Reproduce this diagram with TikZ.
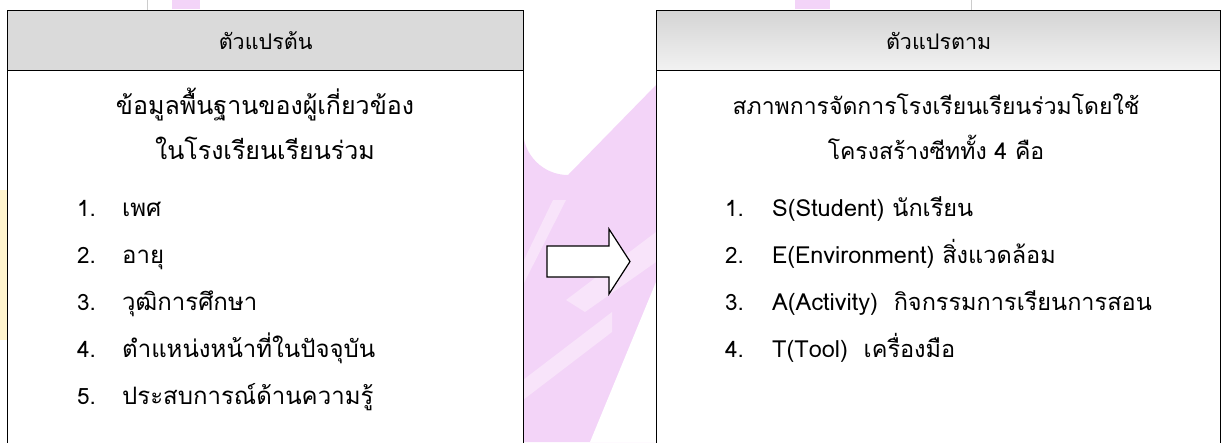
\documentclass[tikz,border=0pt]{standalone}
\usepackage{fontspec}
\setmainfont{Loma}[Script=Thai]
\definecolor{wm}{RGB}{243,212,248}
\definecolor{wmlight}{RGB}{248,228,250}
\definecolor{wmy}{RGB}{255,244,205}
\definecolor{hdr}{RGB}{218,218,218}
\definecolor{hdrtop}{RGB}{212,212,212}
\definecolor{hdrbot}{RGB}{242,242,242}
\tikzset{
  boxframe/.style={draw=black, line width=1.3pt, fill=white, rectangle, anchor=north west, inner sep=0pt},
  hdrbox/.style={draw=black, line width=1.3pt, rectangle, anchor=north west, inner sep=0pt, font=\fontsize{21.5}{25}\selectfont},
  titleL/.style={anchor=base, inner sep=0pt, font=\fontsize{25}{29}\selectfont},
  titleR/.style={anchor=base, inner sep=0pt, font=\fontsize{23}{27}\selectfont},
  itemnum/.style={anchor=base west, inner sep=0pt, font=\fontsize{22.5}{26}\selectfont},
  itemL/.style={anchor=base west, inner sep=0pt, font=\fontsize{24}{28}\selectfont},
  itemR/.style={anchor=base west, inner sep=0pt, font=\fontsize{23.5}{28}\selectfont},
  blockarrow/.style={draw=black, line width=1.2pt, fill=white, line join=miter}
}
\begin{document}
\begin{tikzpicture}[x=1pt,y=-1pt]
\useasboundingbox (0,0) rectangle (1225,442);
\clip (0,0) rectangle (1225,442);
% background watermark
\fill[wm] (523,442) -- (523,130) arc[start angle=180, end angle=90, radius=45] -- (656,85) -- (656,442) -- cycle;
\fill[wmlight] (523,262) -- (553,200) -- (566,200) -- (523,285) -- cycle;
\fill[wmlight] (566,300) -- (656,232) -- (656,262) -- (585,312) -- cycle;
\fill[white] (656,282) -- (656,442) -- (590,442) -- cycle;
\fill[wmlight] (523,380) -- (612,312) -- (612,332) -- (523,400) -- cycle;
\fill[wmy] (0,190) rectangle (7,340);
\fill[wm] (172,0) rectangle (200,9);
\fill[wm] (795,0) rectangle (830,9);
\draw[gray!40, line width=0.8pt] (147,0) -- (147,10);
\draw[gray!40, line width=0.8pt] (971,0) -- (971,10);
% left box
\node[boxframe, minimum width=516pt, minimum height=470pt] (Lbox) at (7,10) {};
\node[hdrbox, fill=hdr, minimum width=516pt, minimum height=60pt] (Lhead) at (7,10) {ตัวแปรต้น};
% right box
\node[boxframe, minimum width=564pt, minimum height=470pt] (Rbox) at (656,10) {};
\node[hdrbox, top color=hdrtop, bottom color=hdrbot, minimum width=564pt, minimum height=60pt] (Rhead) at (656,10) {ตัวแปรตาม};
% left contents
\node[titleL] (L1) at (265,114) {ข้อมูลพื้นฐานของผู้เกี่ยวข้อง};
\node[titleL] (L2) at (265,159) {ในโรงเรียนเรียนร่วม};
\node[itemnum] (Ln1) at (77,216) {1.};
\node[itemL] (Lt1) at (122,216) {เพศ};
\node[itemnum] (Ln2) at (77,263) {2.};
\node[itemL] (Lt2) at (122,263) {อายุ};
\node[itemnum] (Ln3) at (77,310) {3.};
\node[itemL] (Lt3) at (122,310) {วุฒิการศึกษา};
\node[itemnum] (Ln4) at (77,357) {4.};
\node[itemL] (Lt4) at (122,357) {ตำแหน่งหน้าที่ในปัจจุบัน};
\node[itemnum] (Ln5) at (77,404) {5.};
\node[itemL] (Lt5) at (122,404) {ประสบการณ์ด้านความรู้};
% right contents
\node[titleR] (R1) at (936,114) {สภาพการจัดการโรงเรียนเรียนร่วมโดยใช้};
\node[titleR] (R2) at (936,159) {โครงสร้างซีททั้ง 4 คือ};
\node[itemnum] (Rn1) at (725,216) {1.};
\node[itemR] (Rt1) at (772,216) {S(Student) นักเรียน};
\node[itemnum] (Rn2) at (725,263) {2.};
\node[itemR] (Rt2) at (772,263) {E(Environment) สิ่งแวดล้อม};
\node[itemnum] (Rn3) at (725,310) {3.};
\node[itemR] (Rt3) at (772,310) {A(Activity)\ \ กิจกรรมการเรียนการสอน};
\node[itemnum] (Rn4) at (725,357) {4.};
\node[itemR] (Rt4) at (772,357) {T(Tool)\ \ เครื่องมือ};
% block arrow
\coordinate (A0) at (547,261.5);
\draw[blockarrow] (A0) ++(0,-15.5) -- ++(62,0) -- ++(0,-17) -- ++(21,32.5) -- ++(-21,32.5) -- ++(0,-17) -- ++(-62,0) -- cycle;
\end{tikzpicture}
\end{document}
